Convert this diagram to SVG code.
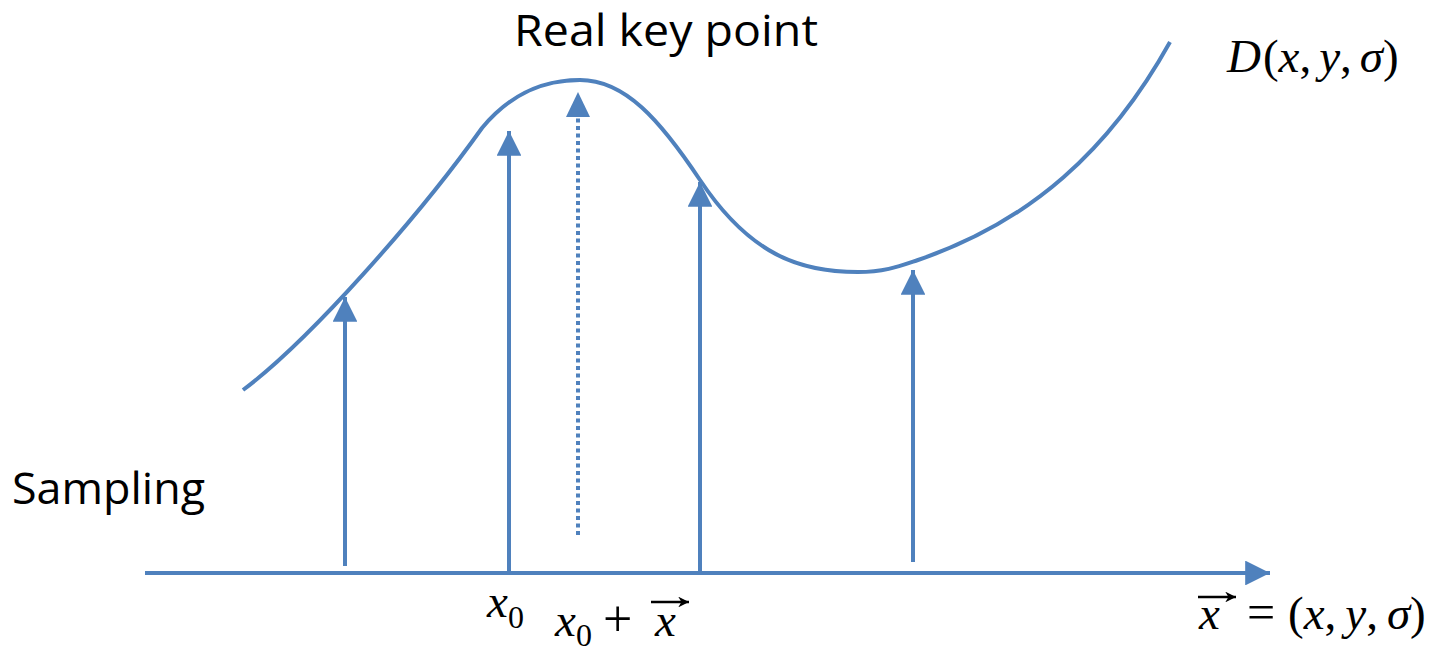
<svg xmlns="http://www.w3.org/2000/svg" width="1439" height="652" viewBox="0 0 1439 652">
<style>
.ln{stroke:#4F81BD;stroke-width:4;fill:none}
.lbl{font-family:"Open Sans","Liberation Sans",sans-serif;fill:#000}
.m{font-family:"Liberation Serif",serif;font-size:47px;fill:#000}
.i{font-style:italic}
.vec{stroke:#000;stroke-width:2.4;fill:none}
</style>
<defs>
<marker id="ah" viewBox="0 0 10 10" refX="10" refY="5" markerWidth="6.2" markerHeight="6.2" orient="auto" markerUnits="strokeWidth">
<path d="M0,0 L10,5 L0,10 Z" fill="#4F81BD"/>
</marker>
<marker id="va" viewBox="0 0 10 10" refX="10" refY="5" markerWidth="4.5" markerHeight="4.5" orient="auto" markerUnits="strokeWidth">
<path d="M0,0 L10,5 L0,10 L3,5 Z" fill="#000"/>
</marker>
</defs>
<rect width="1439" height="652" fill="#fff"/>
<g id="curve">
<path class="ln" d="M243,390 C310,340 420,215 482,128 C512,92 545,80 580,80 C625,80 660,120 700,180 C750,255 800,272 858,272 C885,272 900,266 918,260 C1030,222 1110,150 1170,42"/>
</g>
<g id="connectors">
<line class="ln" x1="145" y1="573" x2="1270" y2="573" marker-end="url(#ah)"/>
<line class="ln" x1="345" y1="566" x2="345" y2="297" marker-end="url(#ah)"/>
<line class="ln" x1="509" y1="573" x2="509" y2="131" marker-end="url(#ah)"/>
<line class="ln" x1="578" y1="535" x2="578" y2="117" stroke-dasharray="4,3.5"/>
<path d="M566,117 L590,117 L578,92 Z" fill="#4F81BD"/>
<line class="ln" x1="700" y1="573" x2="700" y2="182" marker-end="url(#ah)"/>
<line class="ln" x1="913" y1="562" x2="913" y2="270" marker-end="url(#ah)"/>
</g>
<g id="labels">
<text class="lbl" x="514" y="46" font-size="44" textLength="304" lengthAdjust="spacingAndGlyphs">Real key point</text>
<text class="lbl" x="12" y="504" font-size="43" textLength="193" lengthAdjust="spacingAndGlyphs">Sampling</text>
<text class="m" y="72" font-size="50"><tspan class="i" x="1227">D</tspan><tspan dx="2">(</tspan><tspan class="i">x</tspan><tspan>,</tspan><tspan class="i" dx="8">y</tspan><tspan>,</tspan><tspan class="i" dx="8">σ</tspan><tspan>)</tspan></text>
<text class="m" y="617"><tspan class="i" x="487">x</tspan><tspan font-size="32" dy="11">0</tspan></text>
<text class="m" y="636"><tspan class="i" x="555">x</tspan><tspan font-size="32" dy="10">0</tspan><tspan x="603" dy="-10" font-size="52">+</tspan><tspan class="i" x="655">x</tspan></text>
<line class="vec" x1="651" y1="602" x2="689" y2="602" marker-end="url(#va)"/>
<text class="m" y="629"><tspan class="i" x="1199">x</tspan><tspan x="1247" font-size="50">=</tspan><tspan x="1288">(</tspan><tspan class="i">x</tspan><tspan>,</tspan><tspan class="i" dx="9">y</tspan><tspan>,</tspan><tspan class="i" dx="9">σ</tspan><tspan>)</tspan></text>
<line class="vec" x1="1198" y1="597" x2="1236" y2="597" marker-end="url(#va)"/>
</g>
</svg>
